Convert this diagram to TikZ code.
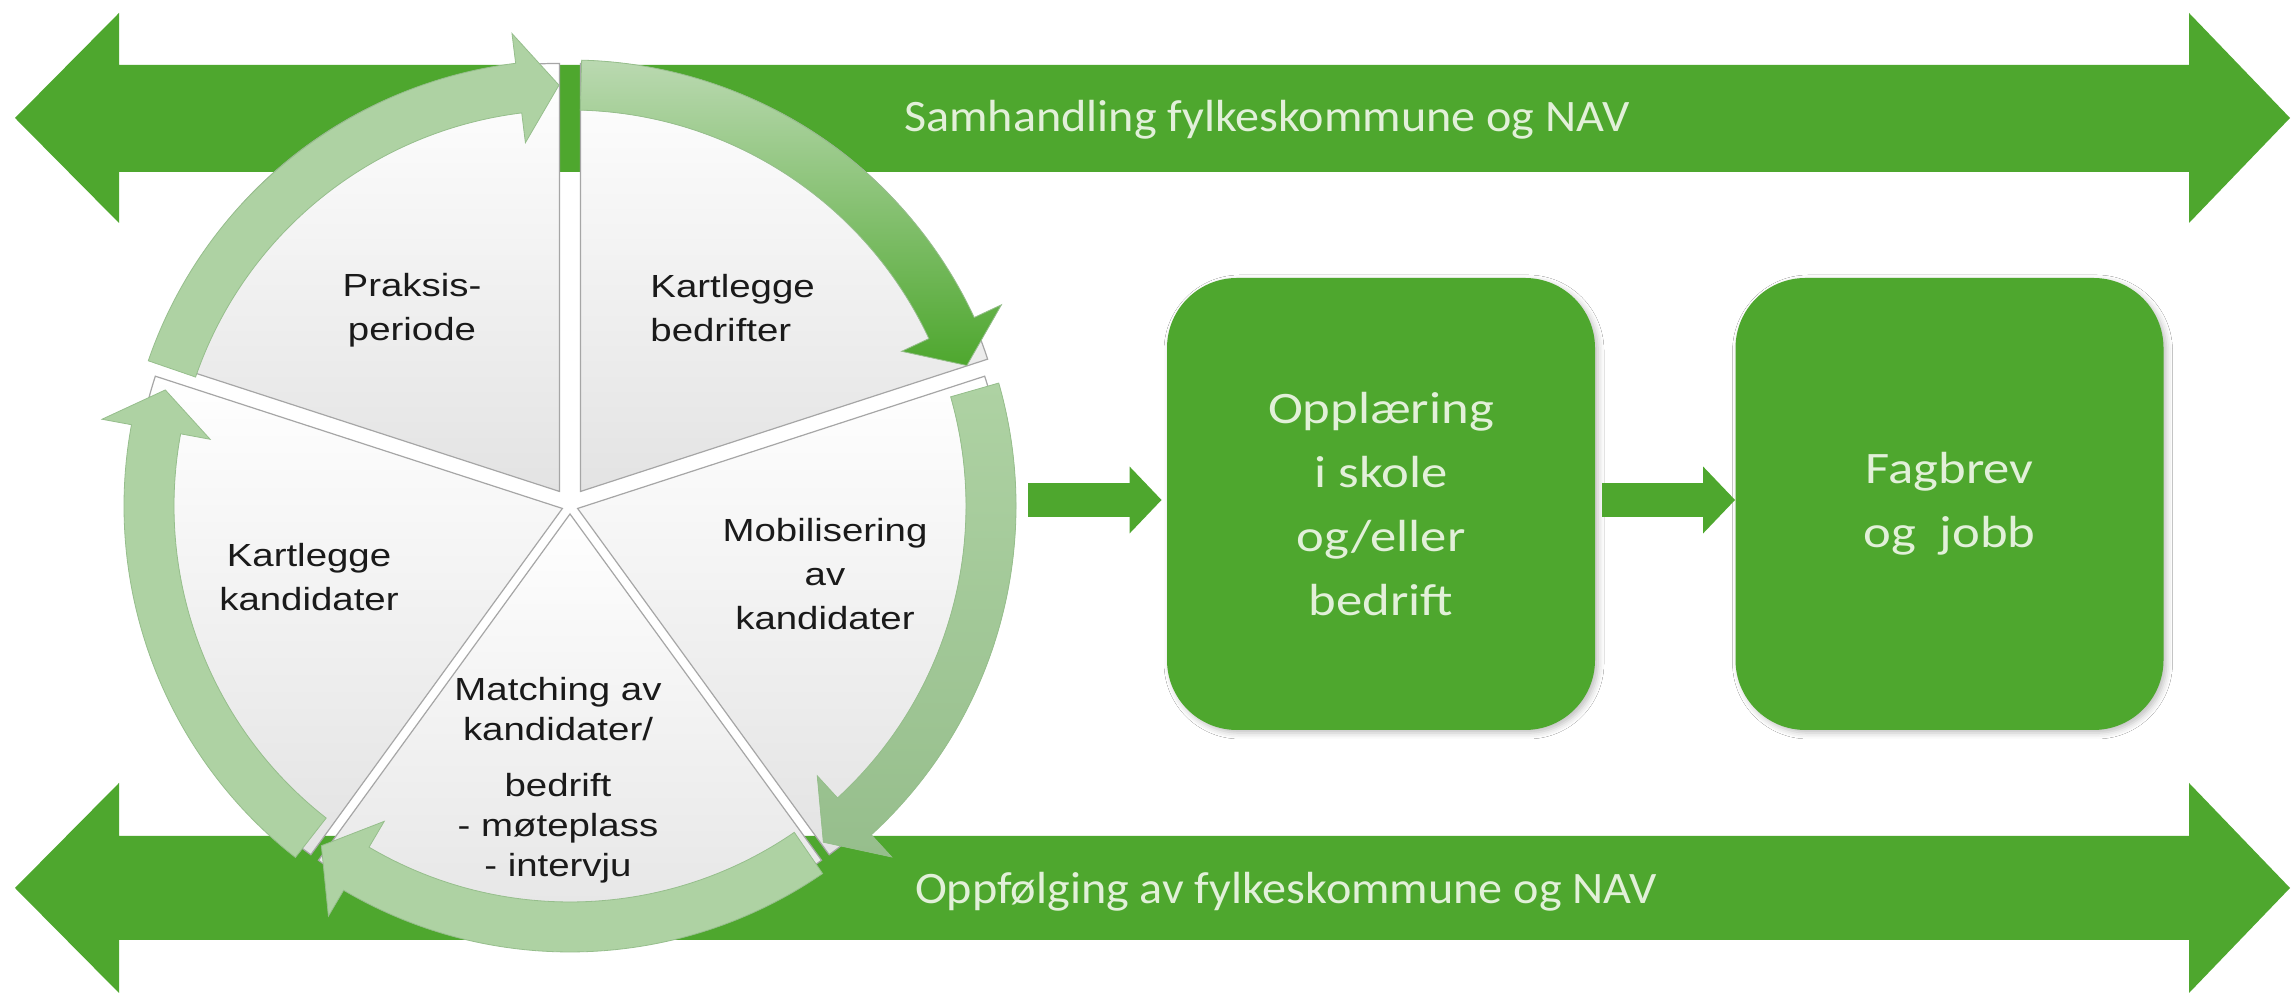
\documentclass[tikz,border=0pt]{standalone}
\usepackage{fontspec}
\usetikzlibrary{calc,arrows.meta,shadows.blur}
\newfontfamily\bandfont[FakeStretch=1.07]{Carlito}
\newfontfamily\boxfont[FakeStretch=1.17]{Carlito}
\newfontfamily\slicefont[FakeStretch=1.2]{Liberation Sans}
\definecolor{mg}{HTML}{4EA72E}
\definecolor{lt}{HTML}{E2F0D9}
\definecolor{ringL}{RGB}{174,210,163}
\definecolor{ringD}{RGB}{150,190,140}
\definecolor{txt}{HTML}{1A1A1A}
\newcommand{\ringarrow}[4]{%
  \path[#1] (#2:446) arc[start angle=#2, end angle=#3, radius=446]
    -- (#3:476) -- (#4:421) -- (#3:366) -- (#3:396)
    arc[start angle=#3, end angle=#2, radius=396] -- cycle;}
\newcommand{\pieslice}[3]{%
  \shade[slicebox, shift={(#3)}] (0,0) -- (#1:428)
    arc[start angle=#1, end angle=#2, radius=428] -- cycle;}
\begin{document}
\begin{tikzpicture}[x=0.5pt,y=0.5pt,
  band/.style={fill=mg},
  bandtext/.style={text=lt, font=\bandfont\fontsize{22.5}{27}\selectfont, inner sep=0pt},
  box/.style={fill=mg, rounded corners=35pt, minimum width=214pt, minimum height=226pt,
    text=lt, align=center, font=\boxfont\fontsize{22.5}{32}\selectfont, inner sep=0pt,
    blur shadow={shadow xshift=1.5pt, shadow yshift=-1.5pt, shadow blur radius=3pt, shadow opacity=25}},
  flow/.style={draw=mg, line width=17pt, -{Triangle[width=32.5pt,length=16pt]}},
  slicebox/.style={top color=white, bottom color=black!11, draw=black!35, line width=0.6pt},
  ringarrow/.style={fill=ringL, draw=ringD, line width=0.4pt},
  slicetext/.style={text=txt, font=\slicefont\fontsize{16}{22}\selectfont, align=center, inner sep=0pt}
]
\useasboundingbox (0,0) rectangle (2292,994);
\fill[white] (0,0) rectangle (2292,994);

% double block arrows (bands)
\fill[band] (15,876) -- (119,981) -- (119,929) -- (2189,929) -- (2189,981) -- (2290,876)
  -- (2189,771) -- (2189,822) -- (119,822) -- (119,771) -- cycle;
\fill[band] (15,106) -- (119,211) -- (119,158) -- (2189,158) -- (2189,211) -- (2290,106)
  -- (2189,1) -- (2189,54) -- (119,54) -- (119,1) -- cycle;
\node[bandtext, anchor=base] (t1) at (1267,862) {Samhandling fylkeskommune og NAV};
\node[bandtext, anchor=base] (t2) at (1286,90) {Oppfølging av fylkeskommune og NAV};

% pie with ring of arrows
\coordinate (C) at (570,488);
\begin{scope}[shift={(570,488)}]
  \pieslice{90}{162}{126:18}
  \pieslice{18}{90}{54:18}
  \pieslice{-54}{18}{-18:8}
  \pieslice{-126}{-54}{-90:8}
  \pieslice{162}{234}{198:8}
  \ringarrow{ringarrow}{161}{97}{91.5}
  \ringarrow{ringarrow, top color=ringL!85!white, middle color=ringL!70!mg, bottom color=mg, draw=ringD}{88.5}{25}{19.5}
  \ringarrow{ringarrow, top color=ringL, bottom color=ringD}{16}{-47.5}{-53}
  \ringarrow{ringarrow}{-55.5}{-120.5}{-126.2}
  \ringarrow{ringarrow}{232}{169.5}{164}
\end{scope}

\node[slicetext] (s1) at (412,684) {Praksis-\\periode};
\node[slicetext, anchor=west, align=left] (s2) at (650,686) {Kartlegge\\bedrifter};
\node[slicetext] (s3) at (825,420) {Mobilisering\\av\\kandidater};
\node[slicetext, font=\slicefont\fontsize{16}{20}\selectfont] (s4) at (558,214)
  {Matching av\\kandidater/\\[8pt]bedrift\\- møteplass\\- intervju};
\node[slicetext] (s5) at (309,417) {Kartlegge\\kandidater};

% boxes
\node[box] (b1) at (1381,490) {Opplæring\\i skole\\og/eller\\bedrift};
\node[box] (b2) at (1949.5,490) {Fagbrev\\og~~jobb};

% flow arrows
\coordinate (a0) at (1028,494);
\draw[flow, shorten >=2.5pt] (a0) -- (a0 -| b1.west);
\draw[flow, shorten <=3.5pt] (b1.east |- a0) -- (b2.west |- a0);
\end{tikzpicture}
\end{document}
